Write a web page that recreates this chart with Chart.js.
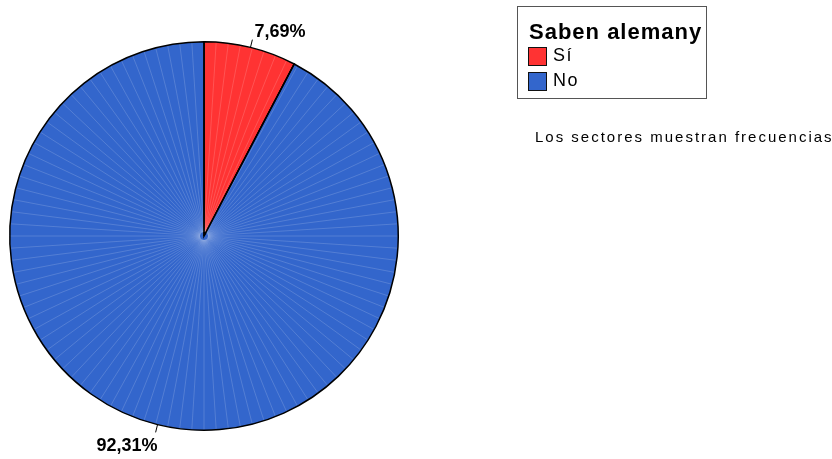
<!DOCTYPE html>
<html>
<head>
<meta charset="utf-8">
<script src="https://cdn.jsdelivr.net/npm/chart.js@4/dist/chart.umd.min.js"></script>
<style>
  html, body { margin: 0; padding: 0; background: #fff; }
  #wrap { position: relative; width: 832px; height: 459px; overflow: hidden; font-family: "Liberation Sans", Arial, sans-serif; }
  #c { position: absolute; left: 0; top: 0; }
  #legend { position: absolute; left: 517px; top: 6px; width: 188px; height: 91px; border: 1.5px solid #555; box-sizing: content-box; }
  #legend .title { position: absolute; left: 11px; top: 12px; font-weight: bold; font-size: 22px; letter-spacing: 1px; color: #000; white-space: nowrap; }
  #legend .item { position: absolute; left: 10px; height: 20px; font-size: 18px; letter-spacing: 1.5px; color: #000; white-space: nowrap; }
  #legend .sw { position: absolute; left: 0; top: 0; width: 17px; height: 17px; border: 1.5px solid #111; }
  #legend .lbl { position: absolute; left: 25px; top: -2px; }
  #note { position: absolute; left: 535px; top: 128px; font-size: 15px; letter-spacing: 2px; color: #000; white-space: nowrap; }
</style>
</head>
<body>
<div id="wrap">
  <canvas id="c" width="832" height="459"></canvas>
  <div id="legend"></div>
  <div id="note">Los sectores muestran frecuencias</div>
</div>
<script>
const legendTitle = "Saben alemany";
const categories = ["Sí", "No"];
const percentages = [7.69, 92.31];
const colors = ["#FF3333", "#3366CC"];
const percentLabels = ["7,69%", "92,31%"];

// HTML legend
const lg = document.getElementById('legend');
const t = document.createElement('div');
t.className = 'title'; t.textContent = legendTitle; lg.appendChild(t);
categories.forEach((c, i) => {
  const it = document.createElement('div');
  it.className = 'item'; it.style.top = (40 + i * 25) + 'px';
  const sw = document.createElement('div'); sw.className = 'sw'; sw.style.background = colors[i];
  const lb = document.createElement('div'); lb.className = 'lbl'; lb.textContent = c;
  it.appendChild(sw); it.appendChild(lb); lg.appendChild(it);
});

// faint radial streaks (rendering texture of the original)
const streakPlugin = {
  id: 'streaks',
  afterDatasetDraw(chart) {
    const arcs = chart.getDatasetMeta(0).data;
    if (!arcs.length) return;
    const p = arcs[0].getProps(['x', 'y', 'outerRadius'], true);
    const ctx = chart.ctx;
    ctx.save();
    ctx.beginPath(); ctx.arc(p.x, p.y, p.outerRadius - 1, 0, Math.PI * 2); ctx.clip();
    ctx.strokeStyle = 'rgba(255,255,255,0.16)';
    ctx.lineWidth = 1;
    for (let a = 0; a < 360; a += 3.6) {
      const r = a * Math.PI / 180;
      ctx.beginPath();
      ctx.moveTo(p.x + Math.cos(r) * 4, p.y + Math.sin(r) * 4);
      ctx.lineTo(p.x + Math.cos(r) * p.outerRadius, p.y + Math.sin(r) * p.outerRadius);
      ctx.stroke();
    }
    ctx.restore();
    // redraw slice borders on top
    ctx.save();
    ctx.strokeStyle = '#000'; ctx.lineWidth = 1.5;
    arcs.forEach(arc => {
      const q = arc.getProps(['x', 'y', 'startAngle', 'endAngle', 'outerRadius'], true);
      ctx.beginPath();
      ctx.moveTo(q.x, q.y);
      ctx.lineTo(q.x + Math.cos(q.startAngle) * q.outerRadius, q.y + Math.sin(q.startAngle) * q.outerRadius);
      ctx.stroke();
    });
    ctx.restore();
  }
};

const labelPlugin = {
  id: 'pctLabels',
  afterDatasetsDraw(chart) {
    const ctx = chart.ctx;
    const arcs = chart.getDatasetMeta(0).data;
    ctx.save();
    ctx.font = 'bold 18px "Liberation Sans", Arial, sans-serif';
    ctx.fillStyle = '#000';
    ctx.strokeStyle = '#000';
    ctx.lineWidth = 1;
    arcs.forEach((arc, i) => {
      const p = arc.getProps(['x', 'y', 'startAngle', 'endAngle', 'outerRadius'], true);
      const mid = (p.startAngle + p.endAngle) / 2;
      const cx = Math.cos(mid), cy = Math.sin(mid);
      const x1 = p.x + cx * p.outerRadius, y1 = p.y + cy * p.outerRadius;
      const x2 = p.x + cx * (p.outerRadius + 8), y2 = p.y + cy * (p.outerRadius + 8);
      ctx.beginPath(); ctx.moveTo(x1, y1); ctx.lineTo(x2, y2); ctx.stroke();
      if (cy < 0) {
        ctx.textAlign = 'left'; ctx.textBaseline = 'bottom';
        ctx.fillText(percentLabels[i], x2 + 2, y2 + 1);
      } else {
        ctx.textAlign = 'right'; ctx.textBaseline = 'top';
        ctx.fillText(percentLabels[i], x2 + 2, y2 + 5);
      }
    });
    ctx.restore();
  }
};

new Chart(document.getElementById('c'), {
  type: 'pie',
  data: {
    labels: categories,
    datasets: [{
      data: percentages,
      backgroundColor: colors,
      borderColor: '#000',
      borderWidth: 1.5,
      hoverOffset: 0,
      borderJoinStyle: 'miter'
    }]
  },
  options: {
    responsive: false,
    animation: false,
    devicePixelRatio: 1,
    layout: { padding: { left: 9, right: 433, top: 41, bottom: 28 } },
    plugins: { legend: { display: false }, tooltip: { enabled: false } }
  },
  plugins: [streakPlugin, labelPlugin]
});
</script>
</body>
</html>
